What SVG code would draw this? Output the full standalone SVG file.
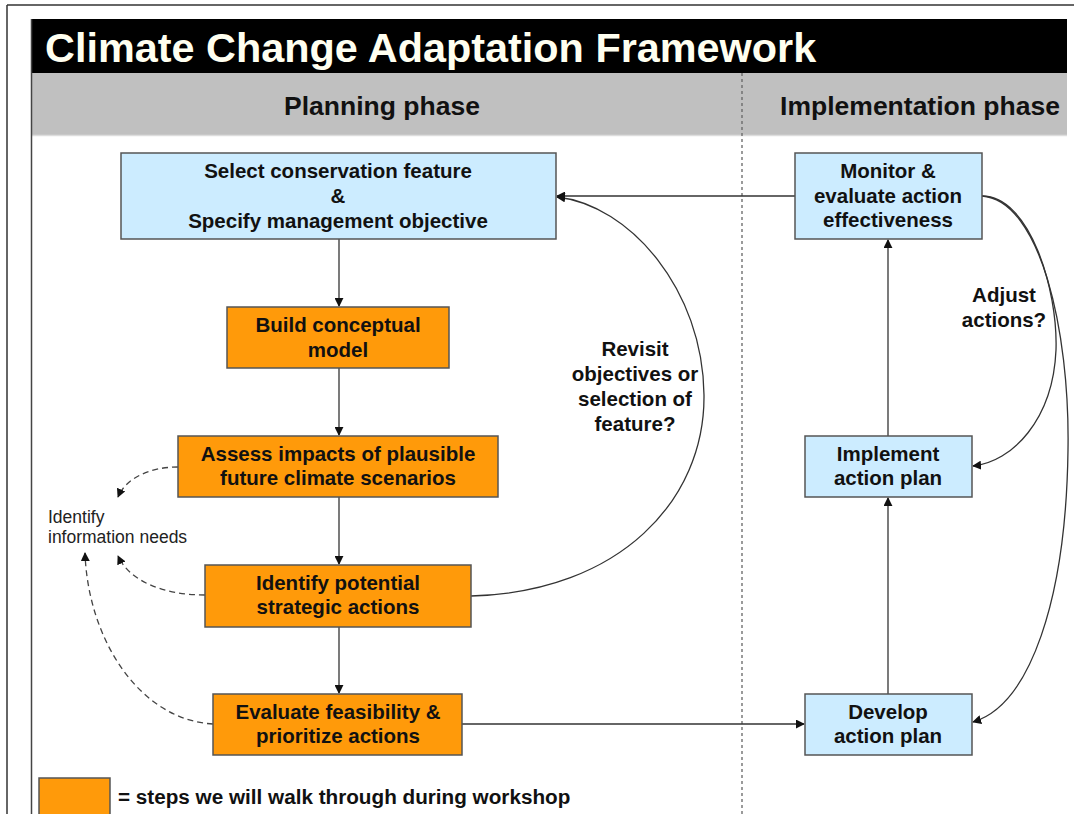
<svg xmlns="http://www.w3.org/2000/svg" width="1074" height="814" viewBox="0 0 1074 814">
<defs>
<marker id="ah" viewBox="0 0 10 10" refX="9" refY="5" markerWidth="9" markerHeight="9" markerUnits="userSpaceOnUse" orient="auto">
<path d="M0,0 L10,5 L0,10 z" fill="#111"/>
</marker>
</defs>
<style>
.blue{fill:#CCECFF;stroke:#555;stroke-width:1.5}
.orange{fill:#FF9A0A;stroke:#555;stroke-width:1.5}
.lbl{font-family:"Liberation Sans",Arial,sans-serif;font-weight:bold;font-size:20.5px;fill:#111;text-anchor:middle}
.con{fill:none;stroke:#333;stroke-width:1.3}
.dash{fill:none;stroke:#444;stroke-width:1.3;stroke-dasharray:6,4}
</style>
<rect x="0" y="0" width="1074" height="814" fill="#fff"/>
<!-- frames -->
<line x1="7" y1="5" x2="1074" y2="5" stroke="#333" stroke-width="1.5"/>
<line x1="7" y1="5" x2="7" y2="814" stroke="#333" stroke-width="1.5"/>
<rect x="31" y="19" width="1036" height="54" fill="#000"/>
<rect x="31" y="73" width="1036" height="62" fill="#C0C0C0"/>
<line x1="31" y1="135.5" x2="1067" y2="135.5" stroke="#DDD" stroke-width="1.5"/>
<line x1="31.5" y1="19" x2="31.5" y2="814" stroke="#444" stroke-width="1.5"/>
<line x1="742" y1="73" x2="742" y2="814" stroke="#666" stroke-width="1.3" stroke-dasharray="3,3"/>
<text x="45" y="62" font-family="'Liberation Sans',Arial,sans-serif" font-weight="bold" font-size="41.4" fill="#FFFFF0">Climate Change Adaptation Framework</text>
<text x="382" y="115" font-family="'Liberation Sans',Arial,sans-serif" font-weight="bold" font-size="26.5" fill="#111" text-anchor="middle">Planning phase</text>
<text x="920" y="115" font-family="'Liberation Sans',Arial,sans-serif" font-weight="bold" font-size="26.5" fill="#111" text-anchor="middle">Implementation phase</text>

<g id="connectors">
<line class="con" x1="339" y1="239" x2="339" y2="306" marker-end="url(#ah)"/>
<line class="con" x1="339" y1="368" x2="339" y2="435" marker-end="url(#ah)"/>
<line class="con" x1="339" y1="497" x2="339" y2="564" marker-end="url(#ah)"/>
<line class="con" x1="339" y1="627" x2="339" y2="693" marker-end="url(#ah)"/>
<line class="con" x1="462" y1="724" x2="804" y2="724" marker-end="url(#ah)"/>
<line class="con" x1="888" y1="694" x2="888" y2="498" marker-end="url(#ah)"/>
<line class="con" x1="888" y1="436" x2="888" y2="240" marker-end="url(#ah)"/>
<line class="con" x1="795" y1="196" x2="557" y2="196" marker-end="url(#ah)"/>
<path class="con" d="M471,596 C620,592 705,500 704,395 C703,290 630,205 557,197" marker-end="url(#ah)"/>
<path class="con" d="M982,196 C1030,196 1058,290 1056,350 C1053,420 1012,462 973,466" marker-end="url(#ah)"/>
<path class="con" d="M982,196 C1040,200 1070,330 1068,450 C1066,600 1030,705 973,722" marker-end="url(#ah)"/>
<path class="dash" d="M178,467 C150,467 126,478 118,497" marker-end="url(#ah)"/>
<path class="dash" d="M205,595 C165,595 130,582 118,556" marker-end="url(#ah)"/>
<path class="dash" d="M213,724 C140,720 88,640 85,553" marker-end="url(#ah)"/>
</g>

<g id="n-select">
<rect class="blue" x="121" y="153" width="435" height="86"/>
<text class="lbl" x="338" y="178">Select conservation feature</text>
<text class="lbl" x="338" y="203">&amp;</text>
<text class="lbl" x="338" y="228">Specify management objective</text>
</g>
<g id="n-build">
<rect class="orange" x="227" y="307" width="222" height="61"/>
<text class="lbl" x="338" y="332">Build conceptual</text>
<text class="lbl" x="338" y="357">model</text>
</g>
<g id="n-assess">
<rect class="orange" x="178" y="436" width="320" height="61"/>
<text class="lbl" x="338" y="461">Assess impacts of plausible</text>
<text class="lbl" x="338" y="485">future climate scenarios</text>
</g>
<g id="n-identify">
<rect class="orange" x="205" y="565" width="266" height="62"/>
<text class="lbl" x="338" y="590">Identify potential</text>
<text class="lbl" x="338" y="614">strategic actions</text>
</g>
<g id="n-evaluate">
<rect class="orange" x="213" y="694" width="249" height="61"/>
<text class="lbl" x="338" y="719">Evaluate feasibility &amp;</text>
<text class="lbl" x="338" y="743">prioritize actions</text>
</g>
<g id="n-monitor">
<rect class="blue" x="795" y="153" width="187" height="86"/>
<text class="lbl" x="888" y="178">Monitor &amp;</text>
<text class="lbl" x="888" y="203">evaluate action</text>
<text class="lbl" x="888" y="227">effectiveness</text>
</g>
<g id="n-implement">
<rect class="blue" x="805" y="436" width="167" height="61"/>
<text class="lbl" x="888" y="461">Implement</text>
<text class="lbl" x="888" y="485">action plan</text>
</g>
<g id="n-develop">
<rect class="blue" x="805" y="694" width="167" height="61"/>
<text class="lbl" x="888" y="719">Develop</text>
<text class="lbl" x="888" y="743">action plan</text>
</g>
<g id="lbl-revisit">
<text class="lbl" x="635" y="356">Revisit</text>
<text class="lbl" x="635" y="381">objectives or</text>
<text class="lbl" x="635" y="406">selection of</text>
<text class="lbl" x="635" y="431">feature?</text>
</g>
<g id="lbl-adjust">
<text class="lbl" x="1004" y="302">Adjust</text>
<text class="lbl" x="1004" y="327">actions?</text>
</g>
<g id="n-info">
<text x="48" y="523" font-family="'Liberation Sans',Arial,sans-serif" font-size="17.5" fill="#222">Identify</text>
<text x="48" y="543" font-family="'Liberation Sans',Arial,sans-serif" font-size="17.5" fill="#222">information needs</text>
</g>
<g id="legend">
<rect class="orange" x="39" y="778" width="71" height="40"/>
<text x="118" y="804" font-family="'Liberation Sans',Arial,sans-serif" font-weight="bold" font-size="20.7" fill="#111">= steps we will walk through during workshop</text>
</g>
</svg>
